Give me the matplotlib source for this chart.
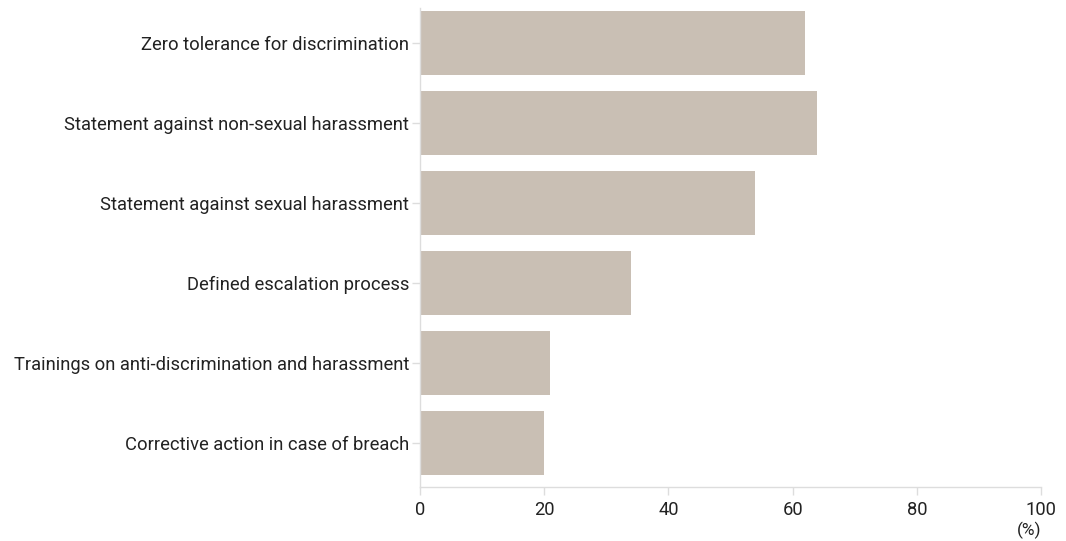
import matplotlib
matplotlib.use("Agg")
import matplotlib.pyplot as plt

plt.rcParams['font.family'] = ['Roboto', 'DejaVu Sans']

categories = ["Zero tolerance for discrimination",
              "Statement against non-sexual harassment",
              "Statement against sexual harassment",
              "Defined escalation process",
              "Trainings on anti-discrimination and harassment",
              "Corrective action in case of breach"]
values = [62, 64, 54, 34, 21, 20]
xticks = [0, 20, 40, 60, 80, 100]

fig = plt.figure(figsize=(10.66, 5.41), dpi=100)
ax = fig.add_axes([420/1066, 1-487/541, (1041-420)/1066, (487-8)/541])

ypos = range(len(categories))
ax.barh(ypos, values, height=0.8, color="#c9bfb4")

ax.set_xlim(0, 100)
ax.set_ylim(len(categories) - 0.45, -0.44)
ax.set_yticks(list(ypos))
ax.set_yticklabels(categories)
ax.set_xticks(xticks)
ax.set_xticklabels([str(t) for t in xticks])

for s in ["top", "right"]:
    ax.spines[s].set_visible(False)
for s in ["left", "bottom"]:
    ax.spines[s].set_color("#dddddd")
    ax.spines[s].set_linewidth(1)

ax.tick_params(axis="both", colors="#dddddd", labelcolor="#222222", labelsize=13.2, length=6, width=1)
ax.tick_params(axis="x", pad=4)
ax.tick_params(axis="y", pad=2)

ax.text(1.0, -0.072, "(%)", transform=ax.transAxes, ha="right", va="top", fontsize=12.5, color="#222222")

fig.savefig("out.png", dpi=100)
